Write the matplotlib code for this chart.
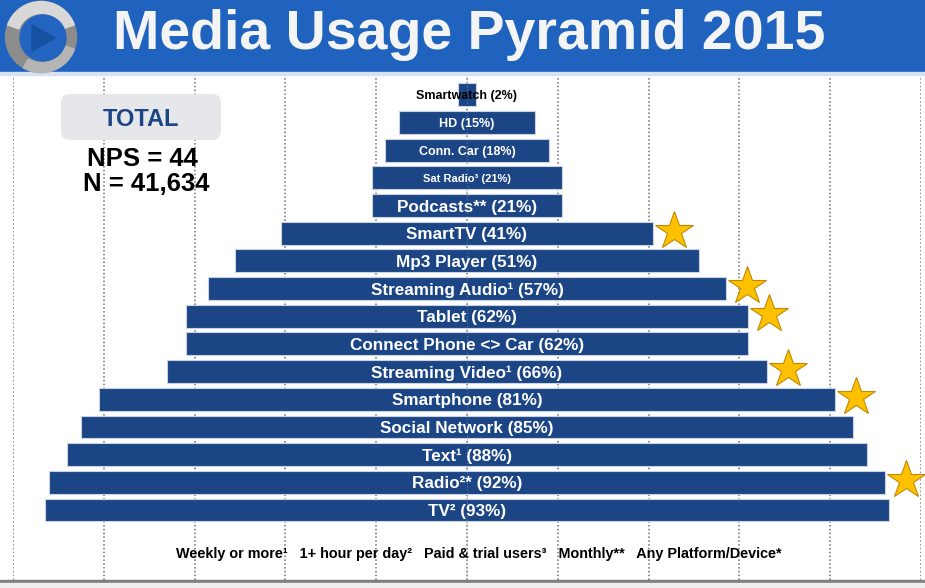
import matplotlib
matplotlib.use("Agg")
import matplotlib.pyplot as plt
from matplotlib.patches import Rectangle, FancyBboxPatch, Circle, Polygon, Wedge

# ---- data (bottom to top) ----
names = ["TV²", "Radio²*", "Text¹", "Social Network", "Smartphone", "Streaming Video¹",
         "Connect Phone <> Car", "Tablet", "Streaming Audio¹", "Mp3 Player", "SmartTV",
         "Podcasts**", "Sat Radio³", "Conn. Car", "HD", "Smartwatch"]
values = [93, 92, 88, 85, 81, 66, 62, 62, 57, 51, 41, 21, 21, 18, 15, 2]
starred = ["Radio²*", "Smartphone", "Streaming Video¹", "Tablet", "Streaming Audio¹", "SmartTV"]
small_sizes = {"Sat Radio³": 8.0, "Conn. Car": 9.0, "HD": 9.0, "Smartwatch": 9.0}
title = "Media Usage Pyramid 2015"
footer = "Weekly or more¹   1+ hour per day²   Paid & trial users³   Monthly**   Any Platform/Device*"
total_label = "TOTAL"
nps_text = "NPS = 44"
n_text = "N = 41,634"

W, H = 925, 588
fig = plt.figure(figsize=(W / 100, H / 100), dpi=100)
fig.patch.set_facecolor("white")

BAR = "#1B4584"
SANS = ["Liberation Sans", "DejaVu Sans"]

# ---- main bar axes ----
top_px, bot_px = 76, 580
row0_px, step = 510, 27.67
ax = fig.add_axes([13 / W, 1 - bot_px / H, 908 / W, (bot_px - top_px) / H])
ax.set_xlim(-50, 50)
ax.set_ylim(-(bot_px - row0_px) / step, (row0_px - top_px) / step)
ax.axis("off")
for gx in range(-50, 51, 10):
    ax.axvline(gx, color="#6f6f6f", lw=1.1, ls=(0, (1, 1.5)), zorder=0)
# faint centre line visible through the bars
ax.axvline(0, color="#8fa3c4", lw=0.8, ls=(0, (1, 2)), alpha=0.6, zorder=2.5)

ys = list(range(len(names)))
ax.barh(ys, values, left=[-v / 2 for v in values], height=0.83,
        color=BAR, edgecolor="#c9d3e3", linewidth=0.8, zorder=2)

for y, n, v in zip(ys, names, values):
    lab = f"{n} ({v}%)"
    if n in small_sizes:
        fs = small_sizes[n]
        col = "black" if n == "Smartwatch" else "white"
        off = fs * 1.389 * 0.716 / 2
    else:
        fs = 12.3
        col = "white"
        off = 6.0
    ax.text(0, y - off / step, lab, color=col, fontsize=fs, fontweight="bold",
            family=SANS, ha="center", va="baseline", zorder=3)
    if n in starred:
        ax.plot(v / 2 + 2.3, y + 0.08, marker="*", ms=29, color="#FFC000",
                mec="#C08A00", mew=0.8, zorder=4, clip_on=False)

# ---- background decorations (pixel coordinates) ----
ov = fig.add_axes([0, 0, 1, 1], zorder=-1)
ov.set_xlim(0, W)
ov.set_ylim(H, 0)
ov.axis("off")
ov.add_patch(Rectangle((0, 0), W, 72, color="#1F63BF", zorder=1))
ov.add_patch(Rectangle((0, 72), W, 2.5, color="#d6e2f3", zorder=1))
ov.add_patch(Rectangle((0, 580), W, 2.5, color="#7f7f7f", zorder=1))
ov.add_patch(Rectangle((0, 582.5), W, 6, color="#eeeeee", zorder=1))

# ---- foreground decorations ----
ov2 = fig.add_axes([0, 0, 1, 1], zorder=5)
ov2.set_xlim(0, W)
ov2.set_ylim(H, 0)
ov2.axis("off")
# logo
ov2.add_patch(Circle((41, 37), 35.5, color="#8c8c8c", zorder=2))
ov2.add_patch(Wedge((41, 37), 35.5, 200, 340, width=12, color="#d8d8d8", zorder=3))
ov2.add_patch(Wedge((41, 37), 35.5, 20, 120, width=10, color="#b5b5b5", zorder=3))
ov2.add_patch(Circle((43, 38), 23, color="#2264BF", zorder=4))
ov2.add_patch(Polygon([[32, 25], [32, 51], [55, 38]], closed=True, color="#1650A0", zorder=5))
ov2.text(469, 49, title, color="#f4f4f4", fontsize=40, fontweight="bold",
         family=SANS, ha="center", va="baseline", zorder=5)

# TOTAL box
ov2.add_patch(FancyBboxPatch((61, 94), 160, 46, boxstyle="round,pad=0,rounding_size=9",
                             fc="#e6e7ea", ec="none", zorder=2))
ov2.text(141, 126, total_label, color="#1B4584", fontsize=17, fontweight="bold",
         family=SANS, ha="center", va="baseline", zorder=3)
ov2.text(142, 166, nps_text, color="black", fontsize=18.5, fontweight="bold",
         family=SANS, ha="center", va="baseline", zorder=3)
ov2.text(146, 191, n_text, color="black", fontsize=18.5, fontweight="bold",
         family=SANS, ha="center", va="baseline", zorder=3)

ov2.text(479, 558, footer, color="black", fontsize=10.4, fontweight="bold",
         family=SANS, ha="center", va="baseline", zorder=3)

fig.savefig("out.png", dpi=100, facecolor="white")
